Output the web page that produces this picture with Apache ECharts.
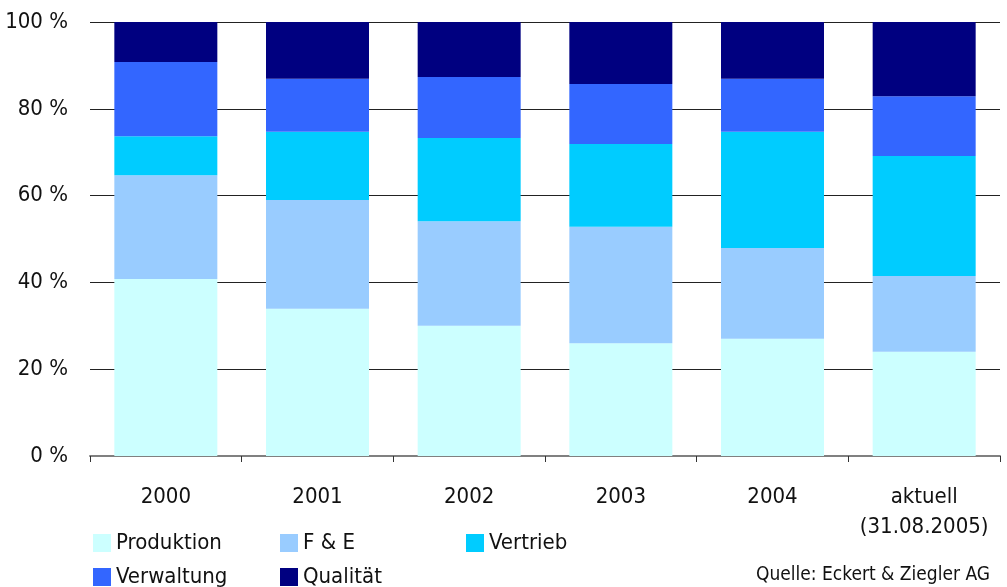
<!DOCTYPE html>
<html>
<head>
<meta charset="utf-8">
<script src="https://cdn.jsdelivr.net/npm/echarts@6/dist/echarts.min.js"></script>
<style>
  html, body { margin: 0; padding: 0; background: #fff; }
  #chart { width: 1007px; height: 587px; }
</style>
</head>
<body>
<div id="chart"></div>
<script>
// Personalverteilung nach Bereichen (Anteile in %)
const categories = ['2000', '2001', '2002', '2003', '2004', 'aktuell\n(31.08.2005)'];
const produktion = [40.8, 33.9, 30.0, 26.0, 27.0, 24.0];
const forschung  = [23.9, 25.1, 24.1, 26.8, 20.9, 17.5];
const vertrieb   = [9.0, 15.7, 19.2, 19.1, 26.8, 27.6];
const verwaltung = [17.1, 12.2, 14.0, 13.8, 12.2, 13.8];
const qualitaet  = [9.2, 13.1, 12.7, 14.3, 13.1, 17.1];
const yTicks = [0, 20, 40, 60, 80, 100];
const source = 'Quelle: Eckert & Ziegler AG';

const FONT = '"DejaVu Sans Condensed", "Liberation Sans Narrow", sans-serif';
const seriesDefs = [
  { name: 'Produktion', data: produktion, color: '#CCFFFF' },
  { name: 'F & E',      data: forschung,  color: '#99CCFF' },
  { name: 'Vertrieb',   data: vertrieb,   color: '#00CCFF' },
  { name: 'Verwaltung', data: verwaltung, color: '#3366FF' },
  { name: 'Qualität',   data: qualitaet,  color: '#000080' }
];
const legendPos = [
  { left: 93,  top: 532 },
  { left: 280, top: 532 },
  { left: 466, top: 532 },
  { left: 93,  top: 566 },
  { left: 280, top: 566 }
];

const chart = echarts.init(document.getElementById('chart'), null, { renderer: 'canvas' });
chart.setOption({
  animation: false,
  backgroundColor: '#fff',
  grid: { left: 90, right: 7, top: 22, bottom: 131, containLabel: false },
  legend: seriesDefs.map((s, i) => ({
    data: [s.name],
    left: legendPos[i].left,
    top: legendPos[i].top,
    padding: 0,
    itemWidth: 18,
    itemHeight: 18,
    itemGap: 0,
    icon: 'rect',
    selectedMode: false,
    textStyle: { fontFamily: FONT, fontSize: 22, color: '#111', padding: [0, 0, 0, 0] }
  })),
  xAxis: {
    type: 'category',
    data: categories,
    boundaryGap: true,
    axisLine: { show: true, lineStyle: { color: '#808080', width: 2 } },
    axisTick: { show: true, length: 6, lineStyle: { color: '#333', width: 1 } },
    axisLabel: {
      fontFamily: FONT, fontSize: 22, color: '#111', margin: 26,
      lineHeight: 30, interval: 0
    },
    splitLine: { show: false }
  },
  yAxis: {
    type: 'value',
    min: 0, max: 100, interval: 20,
    axisLine: { show: false },
    axisTick: { show: false },
    axisLabel: {
      fontFamily: FONT, fontSize: 22, color: '#111', margin: 22,
      formatter: v => yTicks.includes(v) ? v + ' %' : ''
    },
    splitLine: { show: true, lineStyle: { color: '#222', width: 1 } }
  },
  series: seriesDefs.map(s => ({
    name: s.name,
    type: 'bar',
    stack: 'total',
    data: s.data,
    barWidth: 103,
    itemStyle: { color: s.color },
    emphasis: { disabled: true }
  })),
  graphic: [{
    type: 'text',
    right: 17,
    top: 566,
    style: { text: source, fontFamily: FONT, fontSize: 19, fill: '#111' }
  }]
});
</script>
</body>
</html>
